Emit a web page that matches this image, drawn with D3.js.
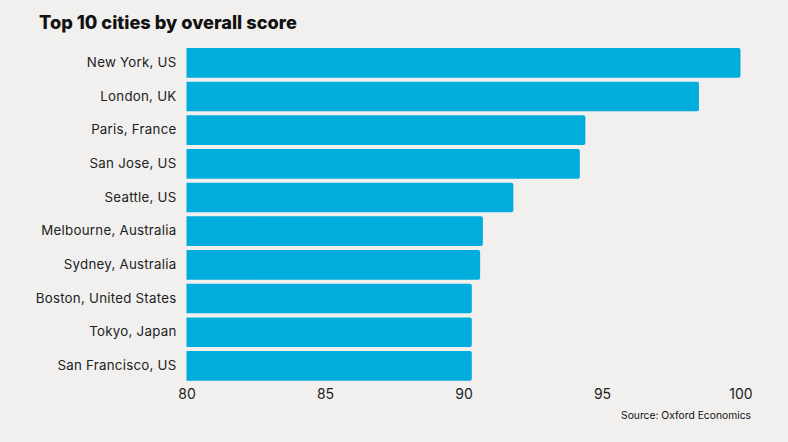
<!DOCTYPE html>
<html>
<head>
<meta charset="utf-8">
<script src="https://cdn.jsdelivr.net/npm/d3@7"></script>
<style>
  body { margin: 0; background: #f1f0ee; }
  svg { display: block; font-family: "Inter", "Open Sans", sans-serif; }
</style>
</head>
<body>
<svg id="vis" width="788" height="442"></svg>
<script>
// data
const cities = ["New York, US", "London, UK", "Paris, France", "San Jose, US", "Seattle, US",
  "Melbourne, Australia", "Sydney, Australia", "Boston, United States", "Tokyo, Japan", "San Francisco, US"]
const scores = [100, 98.5, 94.4, 94.2, 91.8, 90.7, 90.6, 90.3, 90.3, 90.3]
const ticks = [80, 85, 90, 95, 100]

const data = cities.map((c, i) => ({ label: c, value: scores[i] }))

const vis = d3.select("#vis")
vis.append("rect").attr("width", 788).attr("height", 442).attr("fill", "#f1f0ee")

const xScale = d3.scaleLinear().domain([80, 100]).range([186.5, 740.5])
const yScale = d3.scaleBand().domain(cities).range([46, 382.7])
  .paddingInner(0.12).paddingOuter(0.06)

// title
vis.append("text")
  .attr("x", 39).attr("y", 29)
  .attr("font-size", 18.2).attr("font-weight", 800)
  .attr("fill", "#111")
  .attr("letter-spacing", 0)
  .text("Top 10 cities by overall score")

// bars with slightly rounded right end
const r = 2
vis.selectAll(".bar")
  .data(data)
  .enter()
  .append("path")
  .attr("class", "bar")
  .attr("fill", "#00addc")
  .attr("d", d => {
    const x0 = xScale(80), x1 = xScale(d.value)
    const y0 = yScale(d.label), h = yScale.bandwidth()
    return `M${x0},${y0}H${x1 - r}Q${x1},${y0} ${x1},${y0 + r}V${y0 + h - r}Q${x1},${y0 + h} ${x1 - r},${y0 + h}H${x0}Z`
  })

// category labels
const yAxis = d3.axisLeft(yScale).tickSize(0).tickPadding(10)
vis.append("g")
  .attr("transform", `translate(${xScale(80)},0)`)
  .call(yAxis)
  .call(g => g.select(".domain").remove())
  .selectAll("text")
  .attr("font-family", "Inter, 'Open Sans', sans-serif")
  .attr("font-size", 13.3)
  .attr("letter-spacing", 0.25)
  .attr("fill", "#222")

// x axis
const xAxis = d3.axisBottom(xScale).tickValues(ticks).tickSize(0).tickPadding(6)
vis.append("g")
  .attr("transform", `translate(0,${yScale.range()[1]})`)
  .call(xAxis)
  .call(g => g.select(".domain").remove())
  .selectAll("text")
  .attr("font-family", "Inter, 'Open Sans', sans-serif")
  .attr("font-size", 14)
  .attr("fill", "#222")

// source
vis.append("text")
  .attr("x", 751).attr("y", 419)
  .attr("text-anchor", "end")
  .attr("font-size", 10.3)
  .attr("fill", "#111")
  .text("Source: Oxford Economics")
</script>
</body>
</html>
